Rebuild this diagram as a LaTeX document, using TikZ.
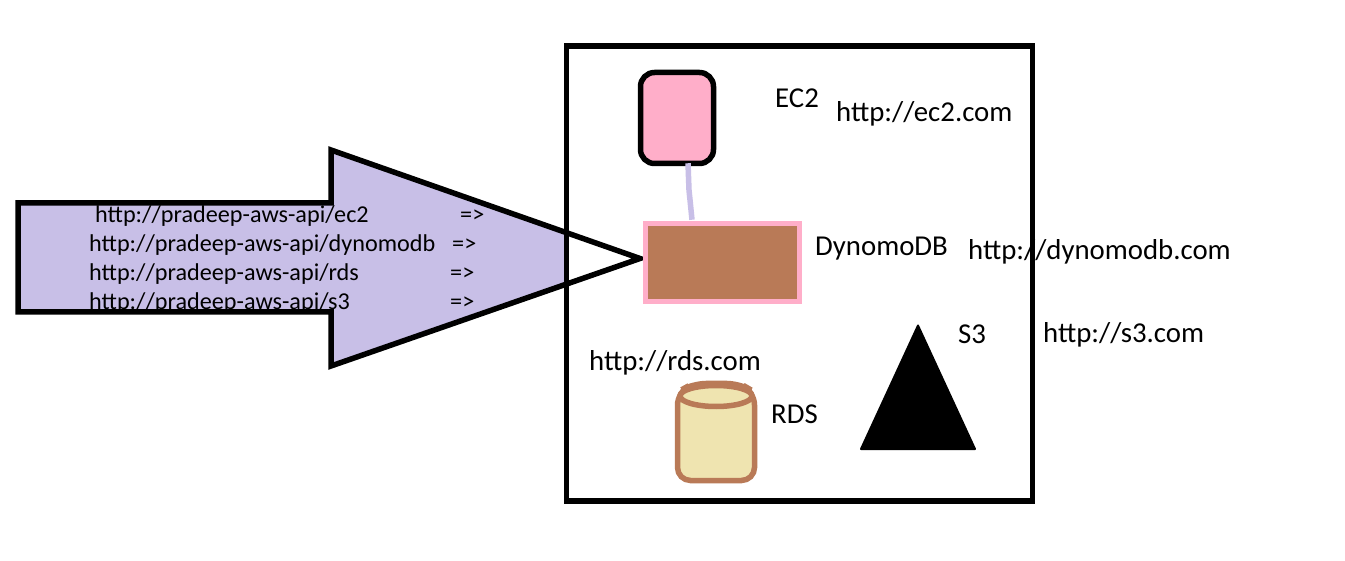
\documentclass[tikz,border=0pt]{standalone}
\usepackage{fontspec}
\setmainfont{Carlito}
\definecolor{lav}{HTML}{C8BFE7}
\definecolor{pinkb}{HTML}{FFAEC9}
\definecolor{brownb}{HTML}{B97A57}
\definecolor{tan}{HTML}{EFE4B0}
\tikzset{x=1pt,y=-1pt,
 lab/.style={inner sep=0pt,anchor=west,font=\fontsize{28.8}{30}\selectfont},
 urlb/.style={inner sep=0pt,anchor=west,font=\fontsize{24.2}{26}\selectfont},
 heavy/.style={line width=5.5pt}}
\begin{document}
\begin{tikzpicture}
\useasboundingbox (0,0) rectangle (1345,561);
\fill[white] (0,0) rectangle (1345,561);
\fill[lav] (18,203) -- (331,203) -- (331,150) -- (566.5,233) -- (566.5,284) -- (331,366) -- (331,312) -- (18,312) -- cycle;
\node[urlb] (u1) at (95,216) {http://pradeep-aws-api/ec2};
\node[urlb] (u2) at (89,245) {http://pradeep-aws-api/dynomodb};
\node[urlb] (u3) at (89,274) {http://pradeep-aws-api/rds};
\node[urlb] (u4) at (89,303) {http://pradeep-aws-api/s3};
\node[urlb] (a1) at (460,216) {=>};
\node[urlb] (a2) at (452,245) {=>};
\node[urlb] (a3) at (450,274) {=>};
\node[urlb] (a4) at (450,303) {=>};
\node[draw=black,heavy,minimum width=466pt,minimum height=455pt,inner sep=0pt] (frame) at (799.5,273.5) {};
\draw[black,heavy,line join=miter] (331,203) -- (18,203) -- (18,312) -- (331,312) -- (331,366) -- (640,258.5) -- (331,150) -- cycle;
\node[draw=black,heavy,fill=pinkb,rounded corners=14pt,minimum width=73pt,minimum height=91pt,inner sep=0pt] (ec2) at (677,118) {};
\node[draw=pinkb,heavy,fill=brownb,minimum width=154pt,minimum height=78pt,inner sep=0pt] (ddb) at (722.5,262.5) {};
\draw[lav,heavy] ([xshift=11pt,yshift=3pt]ec2.south) -- (689,190) -- ([xshift=-30.5pt,yshift=1pt]ddb.north);
\draw[brownb,heavy,fill=tan,rounded corners=13pt] (677.5,392) -- (677.5,480.5) -- (754.5,480.5) -- (754.5,392) -- (740,383.5) -- (693,383.5) -- cycle;
\draw[brownb,heavy,fill=tan] (716,396) ellipse (36pt and 10.5pt);
\fill[black,line join=round,draw=black,line width=2pt] (918,325.5) -- (975,449) -- (861,449) -- cycle;
\node[lab] (t1) at (775,98) {EC2};
\node[lab] (t2) at (836,114) {http://ec2.com};
\node[lab] (t3) at (815,249) {DynomoDB};
\node[lab] (t4) at (968,252) {http://dynomodb.com};
\node[lab] (t5) at (958,334) {S3};
\node[lab] (t6) at (1043,335) {http://s3.com};
\node[lab] (t7) at (589,363) {http://rds.com};
\node[lab] (t8) at (771,414) {RDS};
\end{tikzpicture}
\end{document}
